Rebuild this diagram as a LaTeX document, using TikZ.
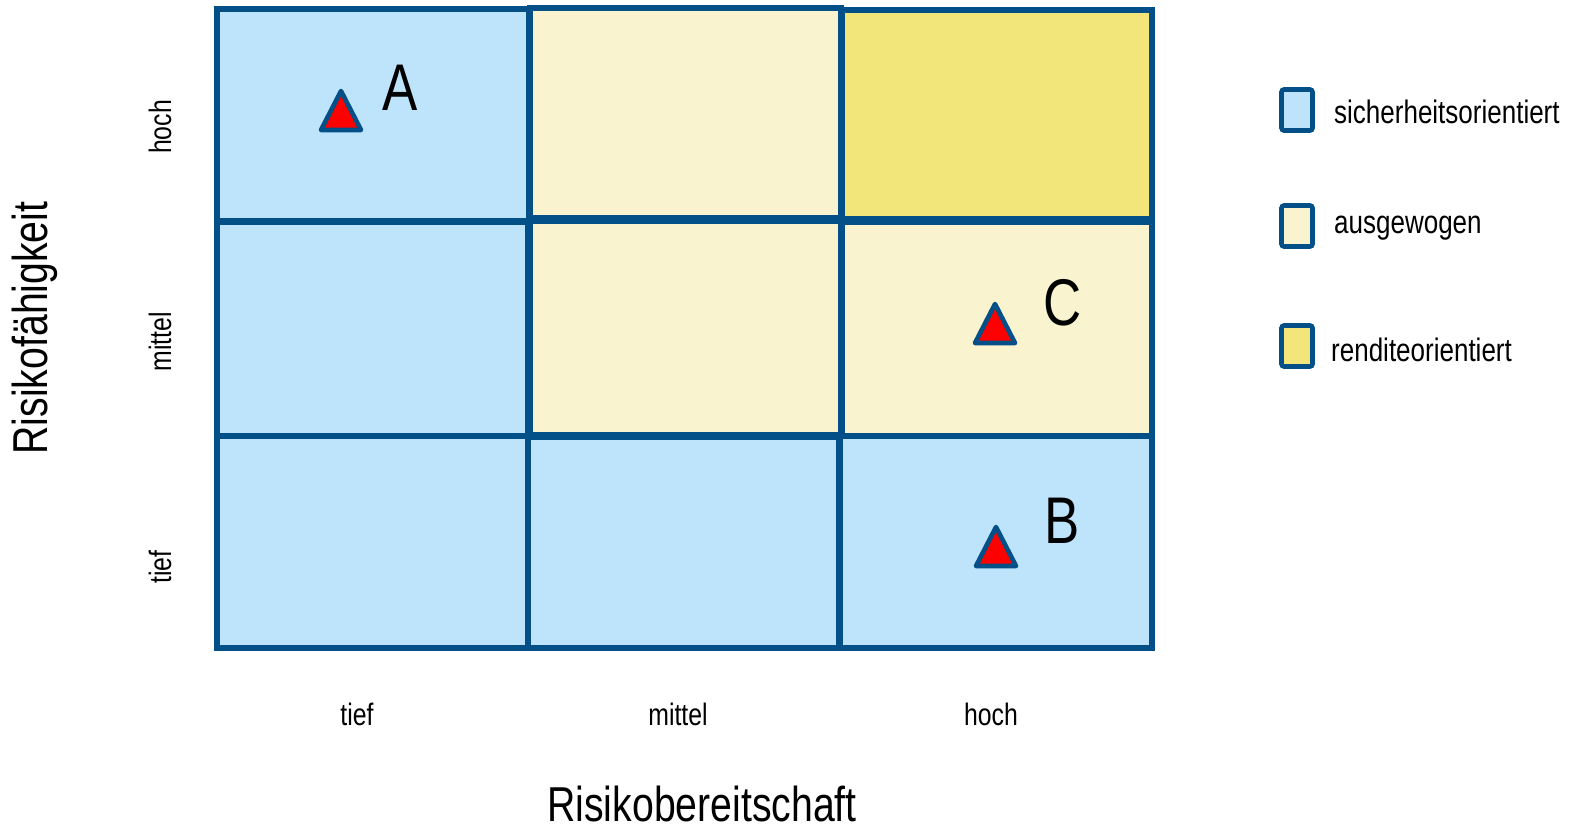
\documentclass[tikz,border=0pt]{standalone}
\usepackage{fontspec}
\setmainfont{Liberation Sans}[FakeStretch=0.8]
\usetikzlibrary{positioning}
\definecolor{bdr}{RGB}{2,80,135}
\definecolor{cblue}{RGB}{190,228,252}
\definecolor{ccream}{RGB}{249,243,208}
\definecolor{cyellow}{RGB}{242,229,122}
\definecolor{tred}{RGB}{255,0,0}
\tikzset{
  cell/.style={draw=bdr, line width=5.6pt},
  tri/.style={draw=bdr, fill=tred, line width=4.6pt, line join=round},
  letter/.style={font=\fontsize{66}{66}\selectfont, inner sep=0pt},
  tick/.style={font=\fontsize{31}{31}\selectfont, inner sep=0pt},
  axis/.style={font=\fontsize{49}{49}\selectfont, inner sep=0pt},
  legbox/.style={draw=bdr, line width=4.6pt, rounded corners=2.5pt, minimum width=31pt, minimum height=41pt, inner sep=0pt},
  legtext/.style={font=\fontsize{32.5}{32.5}\selectfont, inner sep=0pt, anchor=west},
}
\begin{document}
\begin{tikzpicture}[x=1pt,y=-1pt]
\useasboundingbox (0,0) rectangle (1570,831);
% cells
\path[cell, fill=cblue]   (217,9)   rectangle (529,221) coordinate (c11);
\path[cell, fill=ccream]  (530,8)   rectangle (841,218) coordinate (c12);
\path[cell, fill=cyellow] (842,10)  rectangle (1152,219) coordinate (c13);
\path[cell, fill=cblue]   (217,222) rectangle (528,436) coordinate (c21);
\path[cell, fill=ccream]  (530,221) rectangle (841,435) coordinate (c22);
\path[cell, fill=ccream]  (842,222) rectangle (1152,436) coordinate (c23);
\path[cell, fill=cblue]   (217,436) rectangle (528,648) coordinate (c31);
\path[cell, fill=cblue]   (528,437) rectangle (839,648) coordinate (c32);
\path[cell, fill=cblue]   (840,436) rectangle (1152,648) coordinate (c33);
% markers
\draw[tri] (341,91) -- (361,130) -- (321,130) -- cycle;
\draw[tri] (995,304) -- (1015,343) -- (975,343) -- cycle;
\draw[tri] (996,527) -- (1016,566) -- (976,566) -- cycle;
\node[letter] (lA) at (400,88) {A};
\node[letter] (lC) at (1063,303) {C};
\node[letter] (lB) at (1062,521) {B};
% x ticks
\node[tick] (xt1) at (357,714) {tief};
\node[tick] (xt2) at (678,714) {mittel};
\node[tick] (xt3) at (991,714) {hoch};
% y ticks
\node[tick, rotate=90] (yt1) at (160,127) {hoch};
\node[tick, rotate=90] (yt2) at (160,342) {mittel};
\node[tick, rotate=90] (yt3) at (160,567) {tief};
% axis titles
\node[axis] (xlab) at (702,804) {Risikobereitschaft};
\node[axis, rotate=90] (ylab) at (35,328) {Risikofähigkeit};
% legend
\node[legbox, fill=cblue]   (lg1) at (1297,110) {};
\node[legbox, fill=ccream]  (lg2) at (1297,226) {};
\node[legbox, fill=cyellow] (lg3) at (1297,346) {};
\node[legtext] (lt1) at (1334,112) {sicherheitsorientiert};
\node[legtext] (lt2) at (1334,228) {ausgewogen};
\node[legtext] (lt3) at (1331,350) {renditeorientiert};
\end{tikzpicture}
\end{document}
